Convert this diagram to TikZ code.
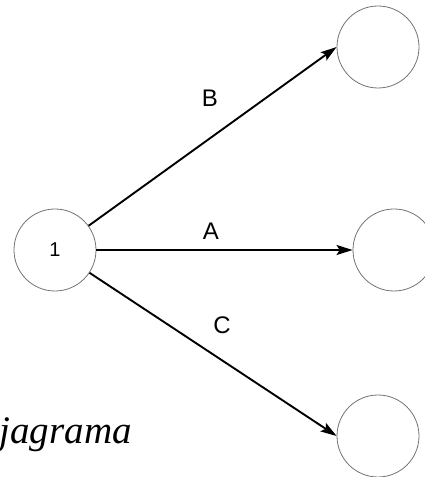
\documentclass[tikz,border=0pt]{standalone}
\usepackage{fontspec}
\setmainfont{Liberation Serif}
\newfontfamily\labelfont{Liberation Sans}
\usetikzlibrary{arrows.meta}
\begin{document}
\begin{tikzpicture}[x=1pt,y=1pt,
  event/.style={circle,draw=black!55,line width=0.8pt,minimum size=82pt,inner sep=0pt,font=\labelfont\fontsize{20}{20}\selectfont},
  activity/.style={line width=1.9pt,-{Stealth[length=16pt,width=10pt,inset=3pt]}},
  actlabel/.style={font=\labelfont\fontsize{24}{24}\selectfont,inner sep=0pt}]
\useasboundingbox (0,0) rectangle (424,477);
\node[event] (n1) at (55,227) {1};
\node[event] (nb) at (378,430) {};
\node[event] (na) at (394,227) {};
\node[event] (nc) at (378,41) {};
\draw[activity] (n1) -- (nb.west);
\draw[activity] (n1) -- (na.west);
\draw[activity] (n1) -- (nc.west);
\node[actlabel] (lb) at (210,379) {B};
\node[actlabel] (la) at (211,246) {A};
\node[actlabel] (lc) at (222,152) {C};
\node[anchor=base east,inner sep=0pt,font=\itshape\fontsize{39}{39}\selectfont] (cap) at (132,34) {jagrama};
\end{tikzpicture}
\end{document}
